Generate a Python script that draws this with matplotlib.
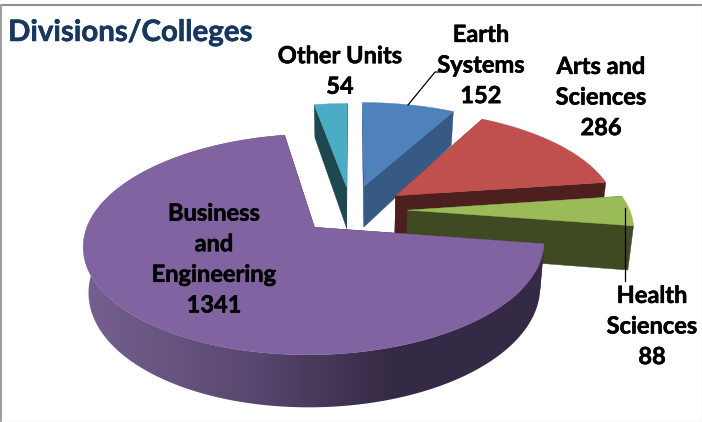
import numpy as np
import matplotlib
matplotlib.use("Agg")
import matplotlib.pyplot as plt
import matplotlib.patheffects as pe
from matplotlib.patches import Polygon
from matplotlib.colors import LinearSegmentedColormap

# Data
names = ["Earth\nSystems", "Arts and\nSciences", "Health\nSciences", "Business\nand\nEngineering", "Other Units"]
values = [152, 286, 88, 1341, 54]
top_colors = ["#4f81bd", "#c0504d", "#9bbb59", "#8063a0", "#4bacc6"]
wall_colors = ["#375a85", "#4d1f1f", "#404a22", "#352a45", "#1e4850"]
explodes = [0.25, 0.25, 0.255, 0.23, 0.23]
label_pos = [(481, 65), (601, 97), (652, 326), (214, 259), (340, 71)]

# Fake 3D projection settings
cx, cy = 351, 210
rx, ry = 222, 102.6
persp = 0.15
depth = 43
depth_tilt = 0.19
shrink = 0.02


def project(x, y, lower=False):
    s = 1 / (1 + persp * y)
    px = cx + rx * x * s
    py = cy - ry * y * s
    if lower:
        px = px - (px - cx) * shrink
        py = py + depth * (1 - depth_tilt * y)
    return px, py


plt.rcParams["font.family"] = ["Lato", "DejaVu Sans"]
fig = plt.figure(figsize=(7.02, 4.22), dpi=100)
ax = fig.add_axes([0, 0, 1, 1])
ax.set_xlim(0, 702)
ax.set_ylim(422, 0)
ax.axis("off")

# frame around the picture
ax.plot([0, 702], [4.5, 4.5], color="#909090", lw=1.5)
ax.plot([1, 1], [4.5, 422], color="#a0a0a0", lw=1.5)
ax.plot([701.5, 701.5], [4.5, 422], color="#e6e6e6", lw=1)
ax.plot([0, 702], [421.5, 421.5], color="#d8d8d8", lw=1)

rim_cmap = LinearSegmentedColormap.from_list("rim", ["#75608f", "#5c4a73", "#352a45", "#352a45"])

total = sum(values)
sweeps = [v / total * 360 for v in values]
starts = 90 - np.cumsum([0] + sweeps[:-1])

# back to front
order = [4, 0, 1, 2, 3]
for z, i in enumerate(order):
    a0 = starts[i]
    a1 = a0 - sweeps[i]
    mid = np.radians((a0 + a1) / 2)
    ox, oy = explodes[i] * np.cos(mid), explodes[i] * np.sin(mid)
    ang = np.radians(np.linspace(a0, a1, int(sweeps[i]) * 2 + 3))
    xs = ox + np.cos(ang)
    ys = oy + np.sin(ang)

    top = [project(ox, oy)] + [project(a, b) for a, b in zip(xs, ys)]
    bottom = [project(ox, oy, True)] + [project(a, b, True) for a, b in zip(xs, ys)]

    # straight walls
    for j in [1, len(top) - 1]:
        wall = [top[0], top[j], bottom[j], bottom[0]]
        ax.add_patch(Polygon(wall, fc=wall_colors[i], ec=wall_colors[i], lw=0.3, zorder=z * 3 + 1))

    # outer rim only shows on the big slice
    if i == 3:
        rim = Polygon(top[1:] + bottom[:0:-1], fc="none", ec="none", transform=ax.transData)
        ax.add_patch(rim)
        grad = np.linspace(0, 1, 256).reshape(1, -1)
        im = ax.imshow(grad, cmap=rim_cmap, extent=(85, 545, 422, 0), aspect="auto", zorder=z * 3 + 2)
        im.set_clip_path(rim)
        ax.set_xlim(0, 702)
        ax.set_ylim(422, 0)

    ax.add_patch(Polygon(top, fc=top_colors[i], ec=top_colors[i], lw=0.3, zorder=z * 3 + 3))

# leader lines
ax.plot([408, 435, 440], [105, 72, 72], color="black", lw=0.9, zorder=30)
ax.plot([625, 625], [208, 281], color="black", lw=0.9, zorder=30)

heavier = [pe.withStroke(linewidth=0.4, foreground="black")]
for name, v, (lx, ly) in zip(names, values, label_pos):
    ax.text(lx, ly, f"{name}\n{v}", ha="center", va="center", fontsize=17,
            fontweight="bold", color="black", linespacing=1.4, zorder=31, path_effects=heavier)

ax.text(8, 33, "Divisions/Colleges", ha="left", va="center", fontsize=21.2, fontweight="bold",
        color="#17375e", zorder=31, path_effects=[pe.withStroke(linewidth=0.4, foreground="#17375e")])

fig.savefig("out.png", dpi=100)
